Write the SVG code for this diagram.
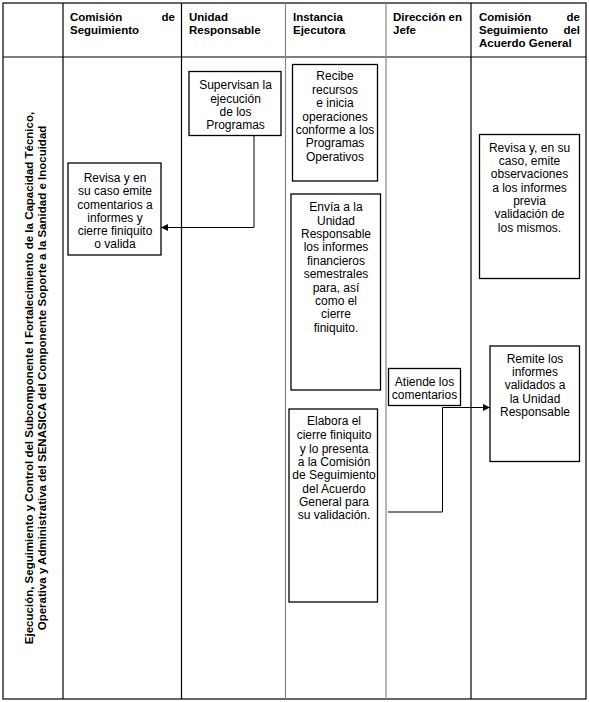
<svg xmlns="http://www.w3.org/2000/svg" width="589" height="702" viewBox="0 0 589 702">
<style>
.h{font-family:"Liberation Sans",Arial,sans-serif;font-size:11.5px;font-weight:bold;fill:#000}
.t{font-family:"Liberation Sans",Arial,sans-serif;font-size:12px;fill:#000;text-anchor:middle}
.v{font-family:"Liberation Sans",Arial,sans-serif;font-size:11.5px;font-weight:bold;fill:#000;text-anchor:middle}
.box{fill:#fff;stroke:#000;stroke-width:1.3}
.grid{stroke:#000;stroke-width:1.2;fill:none}
.gray{stroke:#888;stroke-width:1.2}
.con{fill:none;stroke:#000;stroke-width:1}
</style>
<defs>
<marker id="arr" viewBox="0 0 10 10" refX="10" refY="5" markerWidth="7" markerHeight="7" orient="auto" markerUnits="userSpaceOnUse">
<path d="M0,0 L10,5 L0,10 z" fill="#000"/>
</marker>
</defs>
<rect width="589" height="702" fill="#fff"/>
<g id="table">
<rect class="grid" x="3" y="3" width="583" height="696"/>
<line class="grid" x1="3" y1="57" x2="586" y2="57"/>
<line class="grid" x1="63" y1="3" x2="63" y2="699"/>
<line class="grid" x1="181.5" y1="3" x2="181.5" y2="699"/>
<line class="gray" x1="285.5" y1="3" x2="285.5" y2="699"/>
<line class="gray" x1="386" y1="3" x2="386" y2="699"/>
<line class="grid" x1="471" y1="3" x2="471" y2="699"/>
</g>
<g id="headers">
<text class="h" x="70" y="21">Comisión</text>
<text class="h" x="175" y="21" text-anchor="end">de</text>
<text class="h" x="70" y="34">Seguimiento</text>
<text class="h" x="189" y="21">Unidad</text>
<text class="h" x="189" y="34">Responsable</text>
<text class="h" x="293" y="21">Instancia</text>
<text class="h" x="293" y="34">Ejecutora</text>
<text class="h" x="393" y="21">Dirección en</text>
<text class="h" x="393" y="34">Jefe</text>
<text class="h" x="479" y="21">Comisión</text>
<text class="h" x="580" y="21" text-anchor="end">de</text>
<text class="h" x="479" y="34">Seguimiento</text>
<text class="h" x="580" y="34" text-anchor="end">del</text>
<text class="h" x="479" y="47">Acuerdo General</text>
</g>
<g id="lane-label" transform="translate(33,378) rotate(-90)">
<text class="v" x="0" y="0">Ejecución, Seguimiento y Control del Subcomponente I Fortalecimiento de la Capacidad Técnico,</text>
<text class="v" x="0" y="13">Operativa y Administrativa del SENASICA del Componente Soporte a la Sanidad e Inocuidad</text>
</g>
<g id="n-supervisan">
<rect class="box" x="189" y="71.5" width="92" height="64" stroke-width="2"/>
<text class="t" x="235.5" y="89">Supervisan la</text>
<text class="t" x="235.5" y="102.5">ejecución</text>
<text class="t" x="235.5" y="116">de los</text>
<text class="t" x="235.5" y="128.5">Programas</text>
</g>
<g id="n-revisa-cs">
<rect class="box" x="68" y="163" width="93" height="92" stroke-width="2"/>
<text class="t" x="115" y="181.5">Revisa y en</text>
<text class="t" x="115" y="195">su caso emite</text>
<text class="t" x="115" y="208.5">comentarios a</text>
<text class="t" x="115" y="221.5">informes y</text>
<text class="t" x="115" y="235">cierre finiquito</text>
<text class="t" x="115" y="247.5">o valida</text>
</g>
<g id="n-recibe">
<rect class="box" x="292.5" y="64.5" width="85" height="116.5"/>
<text class="t" x="335" y="80">Recibe</text>
<text class="t" x="335" y="93.5">recursos</text>
<text class="t" x="335" y="107">e inicia</text>
<text class="t" x="335" y="120.5">operaciones</text>
<text class="t" x="335" y="134">conforme a los</text>
<text class="t" x="335" y="147">Programas</text>
<text class="t" x="335" y="160.5">Operativos</text>
</g>
<g id="n-envia">
<rect class="box" x="291" y="194" width="89.5" height="196"/>
<text class="t" x="336" y="211">Envía a la</text>
<text class="t" x="336" y="224.5">Unidad</text>
<text class="t" x="336" y="237.5">Responsable</text>
<text class="t" x="336" y="251">los informes</text>
<text class="t" x="336" y="264.5">financieros</text>
<text class="t" x="336" y="277.5">semestrales</text>
<text class="t" x="336" y="291.5">para, así</text>
<text class="t" x="336" y="304.5">como el</text>
<text class="t" x="336" y="318">cierre</text>
<text class="t" x="336" y="331.5">finiquito.</text>
</g>
<g id="n-elabora">
<rect class="box" x="289" y="409" width="88.5" height="193" stroke-width="1.8"/>
<text class="t" x="334" y="424.5">Elabora el</text>
<text class="t" x="334" y="439">cierre finiquito</text>
<text class="t" x="334" y="452.5">y lo presenta</text>
<text class="t" x="334" y="465.5">a la Comisión</text>
<text class="t" x="334" y="479">de Seguimiento</text>
<text class="t" x="334" y="492.5">del Acuerdo</text>
<text class="t" x="334" y="505.5">General para</text>
<text class="t" x="334" y="519">su validación.</text>
</g>
<g id="n-atiende">
<rect class="box" x="388.5" y="368.5" width="72" height="37"/>
<text class="t" x="424.5" y="385.5">Atiende los</text>
<text class="t" x="424.5" y="398.5">comentarios</text>
</g>
<g id="n-revisa-obs">
<rect class="box" x="479.5" y="134.5" width="100" height="144"/>
<text class="t" x="529.5" y="151.5">Revisa y, en su</text>
<text class="t" x="529.5" y="165">caso, emite</text>
<text class="t" x="529.5" y="178">observaciones</text>
<text class="t" x="529.5" y="191.5">a los informes</text>
<text class="t" x="529.5" y="205">previa</text>
<text class="t" x="529.5" y="218">validación de</text>
<text class="t" x="529.5" y="231.5">los mismos.</text>
</g>
<g id="n-remite">
<rect class="box" x="490" y="346" width="89.5" height="115.5"/>
<text class="t" x="535" y="362.5">Remite los</text>
<text class="t" x="535" y="376">informes</text>
<text class="t" x="535" y="389">validados a</text>
<text class="t" x="535" y="402.5">la Unidad</text>
<text class="t" x="535" y="416">Responsable</text>
</g>
<g id="connectors">
<polyline class="con" points="254,135.5 254,227.5 161,227.5" marker-end="url(#arr)"/>
<polyline class="con" points="388,512 442.5,512 442.5,407.5 490,407.5" stroke="#444" marker-end="url(#arr)"/>
</g>
</svg>
